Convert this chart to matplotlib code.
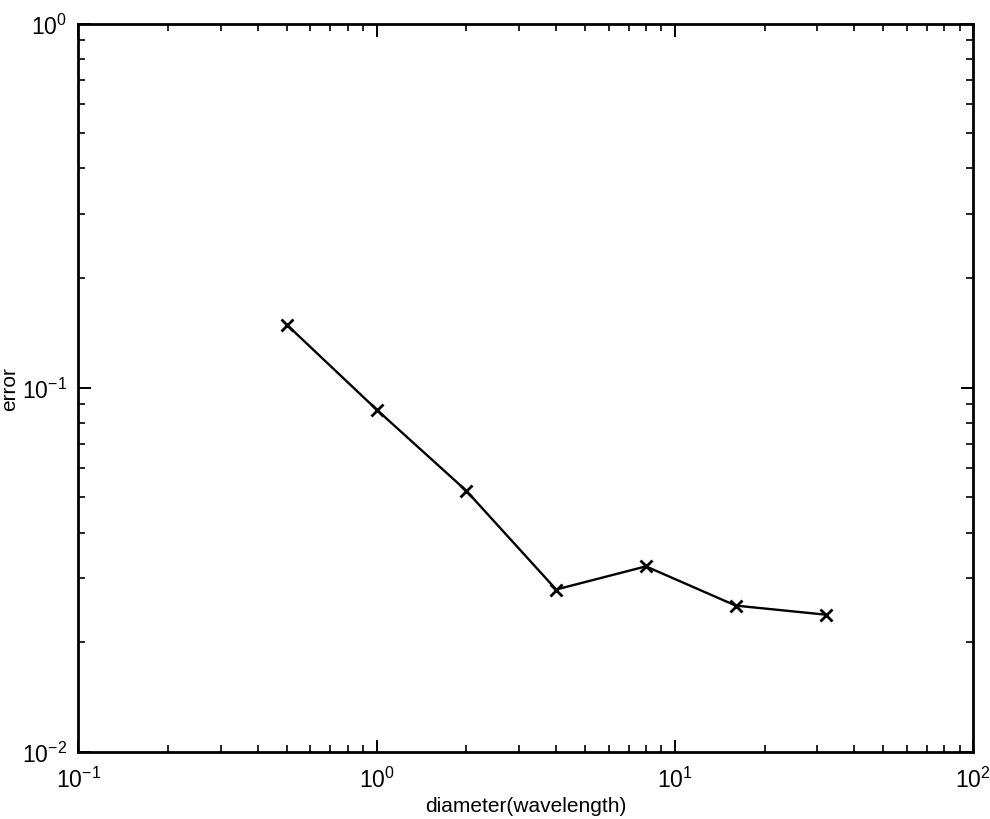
import matplotlib
matplotlib.use("Agg")
import matplotlib.pyplot as plt

diameter = [0.5, 1, 2, 4, 8, 16, 32]
error = [0.149, 0.0871, 0.0521, 0.0279, 0.0323, 0.0252, 0.0238]

plt.rcParams['font.family'] = ['Liberation Sans', 'DejaVu Sans']
plt.rcParams['mathtext.fontset'] = 'custom'
plt.rcParams['mathtext.rm'] = 'Liberation Sans'
plt.rcParams['mathtext.it'] = 'Liberation Sans'
plt.rcParams['mathtext.default'] = 'regular'

fig = plt.figure(figsize=(9.9, 8.2), dpi=100)
ax = fig.add_axes([0.079, 0.082, 0.904, 0.888])

ax.loglog(diameter, error, color='black', linewidth=1.7,
          marker='x', markersize=9, markeredgewidth=2)

ax.set_xlim(0.1, 100)
ax.set_ylim(0.01, 1)

ax.set_xlabel("diameter(wavelength)", fontsize=15, labelpad=3)
ax.set_ylabel("error", fontsize=15, labelpad=2)

ax.tick_params(which='both', direction='in', top=True, right=True, labelsize=16.5)
ax.tick_params(which='major', length=9, width=1.4)
ax.tick_params(which='minor', length=5, width=1.2)
ax.tick_params(axis='x', which='major', pad=11)
ax.tick_params(axis='y', which='major', pad=8)
for s in ax.spines.values():
    s.set_linewidth(2)

fig.savefig("out.png", dpi=100, facecolor='white')
